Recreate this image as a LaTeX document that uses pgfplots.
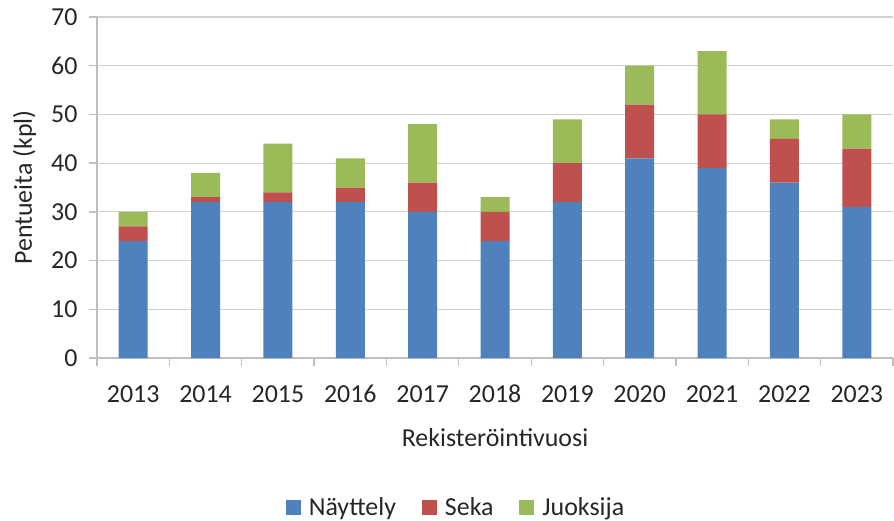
\documentclass[border=0pt]{standalone}
\usepackage{fontspec}
\setmainfont{Carlito}
\usepackage{pgfplots}
\pgfplotsset{compat=1.18}
\definecolor{cblue}{HTML}{4F81BD}
\definecolor{cred}{HTML}{C0504D}
\definecolor{cgreen}{HTML}{9BBB59}
\definecolor{axgray}{HTML}{BFBFBF}
\definecolor{gridgray}{HTML}{D0D0D0}
\definecolor{txt}{HTML}{262626}
\begin{document}
\begin{tikzpicture}[x=1bp,y=1bp]
\begin{axis}[
  at={(0,0)}, anchor=south west,
  scale only axis, width=796bp, height=341bp,
  ybar stacked, bar width=29bp,
  xmin=-0.5, xmax=10.5, ymin=0, ymax=70,
  axis x line=bottom, axis y line=left,
  axis line style={-, axgray, line width=1.3bp},
  xtick={-0.5,0.5,1.5,2.5,3.5,4.5,5.5,6.5,7.5,8.5,9.5,10.5},
  xticklabels={2013,2014,2015,2016,2017,2018,2019,2020,2021,2022,2023},
  x tick label as interval,
  ytick={0,10,...,70},
  tick align=outside, major tick length=8bp,
  tick style={axgray, line width=1.3bp},
  ymajorgrids, grid style={gridgray, line width=1.2bp},
  /pgf/number format/assume math mode=true,
  ticklabel style={font=\fontsize{26}{31}\selectfont, text=txt},
  yticklabel style={xshift=-8bp},
  xticklabel style={anchor=center, yshift=-28bp},
  xlabel={Rekisteröintivuosi},
  ylabel={Pentueita (kpl)},
  every axis x label/.style={at={(axis description cs:0.5,0)}, anchor=center, yshift=-80bp, font=\fontsize{26}{31}\selectfont, text=txt},
  every axis y label/.style={at={(axis description cs:-0.0817,0.5)}, rotate=90, anchor=base, font=\fontsize{26}{31}\selectfont, text=txt},
  legend style={draw=none, at={(axis description cs:0.451,-0.437)}, anchor=center,
    legend columns=3, font=\fontsize{26}{31}\selectfont, text=txt,
    /tikz/every odd column/.append style={column sep=6bp},
    /tikz/every even column/.append style={column sep=24bp}},
  legend image code/.code={\fill[#1] (0bp,-7.5bp) rectangle (15bp,7.5bp);},
  legend cell align=left,
]
\addplot[fill=cblue, draw=none] coordinates {(0,24) (1,32) (2,32) (3,32) (4,30) (5,24) (6,32) (7,41) (8,39) (9,36) (10,31)};
\addplot[fill=cred, draw=none] coordinates {(0,3) (1,1) (2,2) (3,3) (4,6) (5,6) (6,8) (7,11) (8,11) (9,9) (10,12)};
\addplot[fill=cgreen, draw=none] coordinates {(0,3) (1,5) (2,10) (3,6) (4,12) (5,3) (6,9) (7,8) (8,13) (9,4) (10,7)};
\legend{Näyttely, Seka, Juoksija}
\end{axis}
\pgfresetboundingbox
\path[use as bounding box] (-97bp,-163bp) rectangle (797bp,358bp);
\end{tikzpicture}
\end{document}
